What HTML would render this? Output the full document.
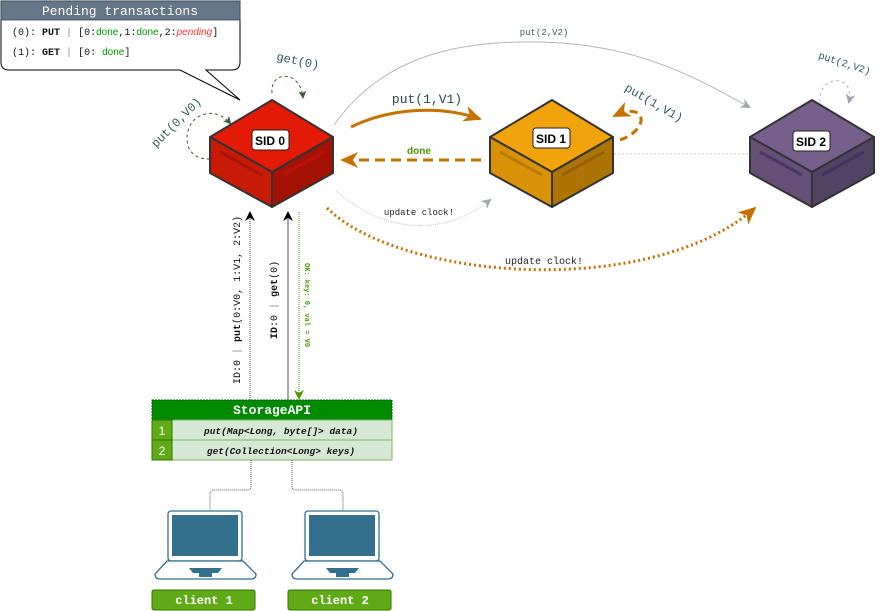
<!DOCTYPE html>
<html><head><meta charset="utf-8"><style>
html,body{margin:0;padding:0;background:#fff;}
svg{display:block;}
text{font-family:"Liberation Mono",monospace;}
.s{font-family:"Liberation Sans",sans-serif;}
</style></head><body>
<svg width="883" height="611" viewBox="0 0 883 611" xmlns="http://www.w3.org/2000/svg">
<defs>
<marker id="ag" markerWidth="8" markerHeight="8" refX="6" refY="4" orient="auto" markerUnits="userSpaceOnUse"><path d="M0,0 L8,4 L0,8 L2,4z" fill="#3d5a3a"/></marker>
<marker id="agr" markerWidth="10" markerHeight="10" refX="8" refY="5" orient="auto" markerUnits="userSpaceOnUse"><path d="M0,0 L10,5 L0,10 L3,5z" fill="#a0a8b0"/></marker>
<marker id="ao" markerWidth="18" markerHeight="16" refX="16" refY="8" orient="auto" markerUnits="userSpaceOnUse"><path d="M0,0 L18,8 L0,16 L5,8z" fill="#c77100"/></marker>
<marker id="ak" markerWidth="10" markerHeight="10" refX="9" refY="5" orient="auto" markerUnits="userSpaceOnUse"><path d="M0,0 L10,5 L0,10 L3,5z" fill="#000"/></marker>
<marker id="agn" markerWidth="10" markerHeight="10" refX="9" refY="5" orient="auto" markerUnits="userSpaceOnUse"><path d="M0,0 L10,5 L0,10 L3,5z" fill="#4d9900"/></marker>
</defs>

<!-- callout -->
<path d="M1,1 H240 V62 Q240,70 232,70 H206 L240,100 L180,70 H9 Q1,70 1,62 Z" fill="#fff" stroke="#000" stroke-width="1"/>
<rect x="1" y="1" width="239" height="19" fill="#647687" stroke="#3a4a5a" stroke-width="0.8"/>
<text x="120" y="15" font-size="13" fill="#fff" text-anchor="middle">Pending transactions</text>
<text x="12" y="35" font-size="10" fill="#111">(0): <tspan font-weight="bold">PUT</tspan> <tspan fill="#888">|</tspan> [0:<tspan fill="#009900" class="s">done</tspan>,1:<tspan fill="#009900" class="s">done</tspan>,2:<tspan fill="#ff3333" font-style="italic" class="s">pending</tspan>]</text>
<text x="12" y="55" font-size="10" fill="#111">(1): <tspan font-weight="bold">GET</tspan> <tspan fill="#888">|</tspan> [0: <tspan fill="#009900" class="s">done</tspan>]</text>

<!-- top gray curve put(2,V2) -->
<path d="M334,125 C380,60 450,40 540,42 C640,44 700,80 749,107" fill="none" stroke="#b0b8b0" stroke-width="1" marker-end="url(#agr)"/>
<text x="544" y="35" font-size="9" fill="#3d5a5a" text-anchor="middle">put(2,V2)</text>

<!-- self loops -->
<path d="M210,159 C180,160 183,125 198,117 C210,110 222,114 230,123" fill="none" stroke="#3d5a3a" stroke-dasharray="3,3" marker-end="url(#ag)"/>
<text x="0" y="0" font-size="12" fill="#2d5a5a" transform="translate(156,148) rotate(-45)">put(0,V0)</text>
<path d="M272,93 C270,70 300,70 303,97" fill="none" stroke="#3d5a3a" stroke-dasharray="3,3" marker-end="url(#ag)"/>
<text x="0" y="0" font-size="12" fill="#2d5a5a" transform="translate(276,60) rotate(12)">get(0)</text>
<path d="M820,102 C818,75 855,72 849,102" fill="none" stroke="#b0b8c0" stroke-dasharray="3,3" marker-end="url(#agr)"/>
<text x="0" y="0" font-size="10" fill="#2d5a5a" transform="translate(818,58) rotate(18)">put(2,V2)</text>
<path d="M620,140 C650,130 648,100 614,116" fill="none" stroke="#c77100" stroke-width="3" stroke-dasharray="8,5" marker-end="url(#ao)"/>
<text x="0" y="0" font-size="12" fill="#2d5a5a" transform="translate(624,90) rotate(30)">put(1,V1)</text>

<!-- put(1,V1) solid orange -->
<path d="M351,127 C390,108 440,105 480,119" fill="none" stroke="#c77100" stroke-width="3" marker-end="url(#ao)"/>
<text x="427" y="103" font-size="13" fill="#2d4a4a" text-anchor="middle">put(1,V1)</text>
<!-- done -->
<line x1="481" y1="160" x2="342" y2="160" stroke="#c77100" stroke-width="3" stroke-dasharray="10,6" marker-end="url(#ao)"/>
<text x="419" y="154" font-size="10" font-weight="bold" fill="#4d9900" text-anchor="middle" class="s">done</text>
<!-- dotted gray SID1-SID2 -->
<line x1="614" y1="154" x2="750" y2="154" stroke="#c8c8c8" stroke-dasharray="2,2"/>
<!-- update clock gray -->
<path d="M336,191 C380,230 440,240 490,200" fill="none" stroke="#c8c8c8" stroke-dasharray="1,1" marker-end="url(#agr)"/>
<text x="419" y="215" font-size="9" fill="#222" text-anchor="middle">update clock!</text>
<!-- update clock orange dotted -->
<path d="M327,208 C400,280 650,300 755,208" fill="none" stroke="#c77100" stroke-width="3" stroke-dasharray="2,3" marker-end="url(#ao)"/>
<text x="544" y="264" font-size="10" fill="#222" text-anchor="middle">update clock!</text>

<!-- cubes -->
<g stroke="#333" stroke-width="2" stroke-linejoin="round">
<polygon points="272,100 333,137 272,172 210,137" fill="#e31a06"/>
<polygon points="210,137 272,172 272,207 210,173" fill="#c91a06"/>
<polygon points="333,137 272,172 272,207 333,173" fill="#a31204"/>
<polygon points="552,100 613,137 552,172 490,137" fill="#f0a30a"/>
<polygon points="490,137 552,172 552,207 490,173" fill="#d99208"/>
<polygon points="613,137 552,172 552,207 613,173" fill="#ac7405"/>
<polygon points="812,100 874,137 812,172 750,137" fill="#765f8a"/>
<polygon points="750,137 812,172 812,207 750,173" fill="#655078"/>
<polygon points="874,137 812,172 812,207 874,173" fill="#524264"/>
</g>
<g stroke-width="3">
<line x1="220" y1="152" x2="262" y2="175" stroke="#a8150a"/><line x1="282" y1="175" x2="324" y2="152" stroke="#c01008"/>
<line x1="500" y1="152" x2="542" y2="175" stroke="#b87a08"/><line x1="562" y1="175" x2="604" y2="152" stroke="#986204"/>
<line x1="760" y1="152" x2="802" y2="175" stroke="#4a3860"/><line x1="822" y1="175" x2="864" y2="152" stroke="#443458"/>
</g>
<g class="s" font-size="12" font-weight="bold" text-anchor="middle">
<rect x="252" y="130" width="37" height="20" rx="3" fill="#fff" stroke="#222"/><text x="270" y="145" class="s">SID 0</text>
<rect x="533" y="128" width="37" height="20" rx="3" fill="#fff" stroke="#222"/><text x="551" y="143" class="s">SID 1</text>
<rect x="793" y="131" width="37" height="20" rx="3" fill="#fff" stroke="#222"/><text x="811" y="146" class="s">SID 2</text>
</g>

<!-- vertical arrows -->
<line x1="250" y1="400" x2="250" y2="212" stroke="#555" stroke-dasharray="1,1" marker-end="url(#ak)"/>
<line x1="288" y1="400" x2="288" y2="212" stroke="#555" marker-end="url(#ak)"/>
<line x1="299" y1="212" x2="299" y2="399" stroke="#4d9900" stroke-dasharray="1,1" marker-end="url(#agn)"/>
<text x="0" y="0" font-size="10" fill="#111" transform="translate(240,384) rotate(-90)">ID:0 <tspan fill="#888">|</tspan> <tspan font-weight="bold">put</tspan>(0:V0, 1:V1, 2:V2)</text>
<text x="0" y="0" font-size="10" fill="#111" transform="translate(277,339) rotate(-90)"><tspan font-weight="bold">ID</tspan>:0 <tspan fill="#888">|</tspan> <tspan font-weight="bold">get</tspan>(0)</text>
<text x="0" y="0" font-size="7" fill="#4d9900" font-weight="bold" transform="translate(305,263) rotate(90)">OK: key: 0, val = V0</text>

<!-- StorageAPI -->
<rect x="152" y="400" width="240" height="20" fill="#008a00" stroke="#005700" stroke-dasharray="2,1"/>
<text x="272" y="414" font-size="13" font-weight="bold" fill="#fff" text-anchor="middle">StorageAPI</text>
<rect x="152" y="420" width="240" height="40" fill="#d5e8d4" stroke="#82b366"/>
<line x1="152" y1="440" x2="392" y2="440" stroke="#82b366"/>
<rect x="152" y="420" width="20" height="40" fill="#60a917" stroke="#2d7600"/>
<line x1="152" y1="440" x2="172" y2="440" stroke="#2d7600"/>
<text x="162" y="435" font-size="12" fill="#fff" text-anchor="middle" class="s">1</text>
<text x="162" y="455" font-size="12" fill="#fff" text-anchor="middle" class="s">2</text>
<text x="281" y="434" font-size="9.5" font-weight="bold" font-style="italic" fill="#111" text-anchor="middle">put(Map&lt;Long, byte[]&gt; data)</text>
<text x="281" y="454" font-size="9.5" font-weight="bold" font-style="italic" fill="#111" text-anchor="middle">get(Collection&lt;Long&gt; keys)</text>

<!-- connectors to clients -->
<path d="M251,460 V486 Q251,490 247,490 H214 Q210,490 210,494 V511" fill="none" stroke="#555" stroke-dasharray="1,1"/>
<path d="M292,460 V486 Q292,490 296,490 H339 Q343,490 343,494 V511" fill="none" stroke="#555" stroke-dasharray="1,1"/>

<!-- laptops -->
<g>
<rect x="168" y="511" width="74" height="50" rx="3" fill="#fff" stroke="#2f6f8a" stroke-width="1.3"/>
<rect x="172" y="515" width="66" height="41" fill="#33708e"/>
<path d="M167,561 H243 L256,574 Q256,579 251,579 H160 Q155,579 155,574 Z" fill="#fff" stroke="#2f6f8a" stroke-width="1.3"/>
<path d="M189,568 H222 L218,573 H212 V577 H199 V573 H193 Z" fill="#33708e"/>
</g>
<g transform="translate(137,0)">
<rect x="168" y="511" width="74" height="50" rx="3" fill="#fff" stroke="#2f6f8a" stroke-width="1.3"/>
<rect x="172" y="515" width="66" height="41" fill="#33708e"/>
<path d="M167,561 H243 L256,574 Q256,579 251,579 H160 Q155,579 155,574 Z" fill="#fff" stroke="#2f6f8a" stroke-width="1.3"/>
<path d="M189,568 H222 L218,573 H212 V577 H199 V573 H193 Z" fill="#33708e"/>
</g>
<rect x="152" y="590" width="103" height="20" rx="2" fill="#60a917" stroke="#2d7600"/>
<text x="204" y="604" font-size="12" font-weight="bold" fill="#fff" text-anchor="middle">client 1</text>
<rect x="288" y="590" width="103" height="20" rx="2" fill="#60a917" stroke="#2d7600"/>
<text x="340" y="604" font-size="12" font-weight="bold" fill="#fff" text-anchor="middle">client 2</text>
</svg>
</body></html>
